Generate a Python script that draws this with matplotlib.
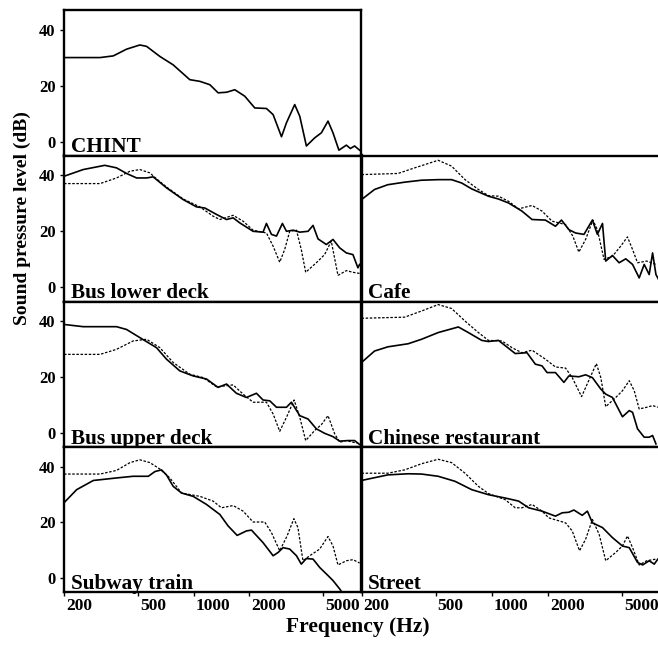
import matplotlib
matplotlib.use('Agg')
import matplotlib.pyplot as plt
import matplotlib.transforms as mtransforms
from matplotlib.ticker import FixedLocator, NullLocator, FixedFormatter, NullFormatter

plt.rcParams['font.family'] = ['Liberation Serif', 'DejaVu Serif']
plt.rcParams['font.weight'] = 'bold'

# ---------------- data (Hz, dB) ----------------
chint_f = [200, 313, 369, 435, 513, 558, 658, 776, 954, 1081, 1224, 1356, 1505, 1669, 1888,
           2138, 2472, 2686, 2980, 3170, 3512, 3740, 4060, 4500, 4890, 5310, 5650, 6080,
           6670, 7010, 7390, 7860]
chint_db = [30.0, 30.0, 30.6, 33.0, 34.5, 34.0, 30.4, 27.4, 22.1, 21.5, 20.3, 17.4, 17.6, 18.5,
            16.2, 12.0, 11.8, 9.6, 1.7, 6.7, 13.2, 9.0, -1.6, 1.3, 3.1, 7.3, 3.1, -3.1, -1.3,
            -2.5, -1.6, -3.1]

bus_low_solid_f = [200, 254, 332, 384, 435, 493, 558, 605, 714, 879, 1037, 1150, 1330, 1505, 1635,
                   1775, 2094, 2370, 2472, 2630, 2800, 3014, 3170, 3440, 3740, 4145, 4410, 4690,
                   5200, 5650, 6140, 6670, 7240, 7700, 7860]
bus_low_solid_db = [39.6, 42.0, 43.5, 42.6, 40.6, 39.0, 39.0, 39.4, 35.5, 31.3, 28.7, 28.3, 26.0,
                    24.2, 24.8, 23.0, 20.0, 19.7, 22.8, 18.9, 18.3, 22.8, 20.0, 20.4, 19.7, 20.0,
                    22.1, 17.3, 15.3, 17.1, 14.1, 12.3, 11.7, 7.0, 8.2]
bus_low_dash_f = [200, 313, 384, 454, 513, 581, 631, 714, 879, 1081, 1274, 1386, 1635, 1850, 2094,
                  2472, 2686, 2915, 3100, 3300, 3590, 3810, 4025, 4594, 5090, 5530, 6010, 6670,
                  7240, 7860]
bus_low_dash_db = [37.0, 37.0, 39.0, 41.4, 42.0, 40.8, 38.7, 35.8, 31.5, 28.7, 25.4, 24.2, 25.7,
                   23.6, 20.4, 19.4, 14.7, 9.0, 13.5, 20.0, 20.4, 13.5, 5.4, 8.8, 11.7, 16.5, 4.3,
                   6.0, 5.4, 5.0]

bus_up_solid_f = [200, 254, 384, 435, 513, 631, 714, 843, 995, 1174, 1356, 1505, 1702, 1928, 2183,
                  2370, 2576, 2800, 3170, 3370, 3740, 4145, 4594, 5090, 5650, 6140, 6810, 7390,
                  7860]
bus_up_solid_db = [38.8, 38.0, 38.0, 37.0, 34.1, 30.5, 26.4, 22.2, 20.4, 19.3, 16.3, 17.5, 14.2,
                   12.7, 14.2, 11.8, 11.5, 9.2, 9.2, 11.0, 6.2, 5.0, 1.5, -0.1, -1.3, -2.9, -2.7,
                   -2.7, -4.1]
bus_up_dash_f = [200, 313, 384, 472, 558, 658, 776, 954, 1126, 1330, 1635, 1850, 2094, 2472, 2686,
                 2915, 3170, 3485, 3740, 4025, 4500, 4890, 5310, 5770, 6140, 6670, 7240, 7700]
bus_up_dash_db = [28.1, 28.1, 29.9, 32.9, 33.5, 30.5, 25.2, 21.0, 19.8, 16.5, 17.2, 13.9, 11.0,
                  11.0, 6.8, 0.6, 5.6, 11.8, 5.6, -2.7, 0.9, 3.0, 6.2, -0.3, -3.3, -2.7, -3.3, -3.6]

subway_solid_f = [200, 234, 288, 384, 472, 570, 619, 671, 714, 776, 861, 995, 1174, 1386, 1535,
                  1718, 1928, 2052, 2370, 2686, 2860, 3040, 3300, 3590, 3810, 4060, 4410, 4790,
                  5310, 5650, 6140, 6400]
subway_solid_db = [27.0, 31.7, 35.0, 35.9, 36.5, 36.5, 38.2, 38.8, 37.0, 32.9, 30.5, 29.3, 26.4,
                   22.8, 18.7, 15.3, 16.9, 17.2, 12.7, 8.0, 9.2, 10.9, 10.4, 8.0, 5.0, 7.0, 6.8,
                   3.8, 0.9, -0.9, -3.9, -5.7]
subway_dash_f = [200, 313, 384, 454, 513, 581, 658, 745, 861, 1081, 1274, 1414, 1635, 1850, 2094,
                 2420, 2630, 2915, 3195, 3475, 3655, 3890, 4230, 4790, 5310, 5650, 6010, 6670,
                 7240, 7860]
subway_dash_db = [37.3, 37.3, 38.6, 41.4, 42.4, 41.4, 39.1, 35.9, 30.5, 29.3, 27.6, 25.2, 26.0,
                  24.0, 20.1, 20.1, 16.3, 9.8, 15.1, 21.3, 18.1, 6.2, 8.0, 10.4, 14.9, 11.5, 4.7,
                  6.2, 6.6, 5.4]

cafe_solid_f = [200, 235, 277, 341, 420, 516, 609, 690, 781, 960, 1087, 1230, 1452, 1646, 1940,
                2198, 2368, 2594, 2818, 3126, 3470, 3690, 3930, 4090, 4445, 4826, 5240, 5700,
                6185, 6580, 7000, 7300, 7610, 7870]
cafe_solid_db = [31.3, 34.9, 36.6, 37.5, 38.2, 38.4, 38.4, 37.2, 35.1, 32.5, 31.5, 30.1, 27.2,
                 24.2, 24.0, 21.8, 24.0, 20.6, 19.4, 18.9, 24.0, 18.9, 22.8, 9.4, 11.4, 8.8, 10.2,
                 8.2, 3.4, 8.2, 4.6, 12.3, 4.6, 2.8]
cafe_dash_f = [200, 314, 386, 516, 609, 719, 848, 960, 1087, 1230, 1394, 1646, 1862, 2108, 2490,
               2724, 2935, 3190, 3490, 3690, 4005, 4445, 4920, 5350, 5700, 6060, 6790, 7610]
cafe_dash_db = [40.2, 40.6, 42.6, 45.3, 43.2, 38.4, 34.9, 32.7, 32.5, 30.7, 28.0, 29.2, 27.2,
                23.6, 22.4, 18.3, 12.6, 17.1, 24.0, 20.6, 10.0, 11.1, 14.7, 18.0, 13.5, 8.8, 9.4,
                8.2]

chinese_solid_f = [200, 235, 277, 356, 420, 516, 662, 749, 884, 960, 1087, 1230, 1337, 1546, 1714,
                   1862, 1982, 2198, 2440, 2594, 2935, 3190, 3470, 3850, 4090, 4445, 5030, 5470,
                   5700, 6060, 6580, 7000, 7300, 7610]
chinese_solid_db = [25.2, 29.3, 30.8, 31.9, 33.5, 35.9, 37.9, 35.9, 33.1, 32.7, 33.1, 30.3, 28.4,
                    28.7, 24.6, 24.0, 21.6, 21.6, 18.1, 20.4, 20.1, 20.8, 19.8, 15.7, 13.9, 12.7,
                    5.8, 8.0, 7.4, 1.5, -1.5, -1.5, -0.9, -3.9]
chinese_dash_f = [200, 341, 420, 516, 609, 719, 848, 960, 1134, 1284, 1452, 1646, 1940, 2198,
                  2490, 2704, 3035, 3324, 3643, 3850, 4090, 4630, 5030, 5470, 5820, 6185, 6790,
                  7300, 7790]
chinese_dash_db = [41.0, 41.4, 43.6, 45.9, 44.5, 40.0, 35.9, 33.1, 32.9, 30.5, 28.7, 29.6, 26.4,
                   23.6, 23.2, 19.8, 13.0, 18.9, 24.8, 19.8, 9.4, 12.7, 15.1, 18.7, 15.1, 8.6, 9.2,
                   9.8, 9.2]

street_solid_f = [200, 277, 356, 420, 516, 635, 781, 960, 1181, 1394, 1578, 1862, 2198, 2388, 2594,
                  2760, 3060, 3260, 3470, 3930, 4445, 5030, 5470, 6060, 6450, 7000, 7450, 7790]
street_solid_db = [35.0, 37.0, 37.4, 37.3, 36.5, 34.7, 31.7, 29.9, 28.7, 27.6, 25.2, 24.0, 22.2,
                   23.4, 23.6, 24.4, 22.5, 24.0, 19.8, 18.1, 14.5, 11.5, 10.9, 5.6, 4.7, 6.2, 5.0,
                   6.8]
street_dash_f = [200, 277, 341, 420, 516, 609, 719, 848, 960, 1181, 1337, 1452, 1646, 1862, 2023,
                 2490, 2704, 2960, 3190, 3470, 3770, 4090, 4630, 5030, 5350, 5700, 6185, 6790, 7610]
street_dash_db = [37.6, 37.6, 38.8, 41.0, 42.6, 41.4, 37.6, 32.9, 30.3, 28.1, 25.2, 25.2, 26.4,
                  24.0, 21.6, 19.8, 16.9, 9.8, 13.9, 21.0, 15.7, 6.2, 9.2, 11.5, 15.1, 10.9, 4.7,
                  6.2, 6.8]

panel_titles = ['CHINT', 'Bus lower deck', 'Cafe', 'Bus upper deck', 'Chinese restaurant',
                'Subway train', 'Street']
x_ticks = [200, 500, 1000, 2000, 5000]
x_tick_labels = ['200', '500', '1000', '2000', '5000']
y_ticks = [0, 20, 40]
y_tick_labels = ['0', '20', '40']

# ---------------- layout ----------------
W, H = 658, 645
fig = plt.figure(figsize=(W / 100, H / 100), dpi=100)
fig.patch.set_facecolor('white')


def rect(l, t, r, b):
    return [l / W, 1 - b / H, (r - l) / W, (b - t) / H]


rows = [(10, 155.5), (155.5, 301.5), (301.5, 447), (447, 592)]
cols = [(64, 361), (361.5, 660)]

panels = [
    (0, 0, panel_titles[0], (chint_f, chint_db), None),
    (1, 0, panel_titles[1], (bus_low_solid_f, bus_low_solid_db), (bus_low_dash_f, bus_low_dash_db)),
    (1, 1, panel_titles[2], (cafe_solid_f, cafe_solid_db), (cafe_dash_f, cafe_dash_db)),
    (2, 0, panel_titles[3], (bus_up_solid_f, bus_up_solid_db), (bus_up_dash_f, bus_up_dash_db)),
    (2, 1, panel_titles[4], (chinese_solid_f, chinese_solid_db), (chinese_dash_f, chinese_dash_db)),
    (3, 0, panel_titles[5], (subway_solid_f, subway_solid_db), (subway_dash_f, subway_dash_db)),
    (3, 1, panel_titles[6], (street_solid_f, street_solid_db), (street_dash_f, street_dash_db)),
]

for r, c, title, solid, dash in panels:
    t, b = rows[r]
    l, rr = cols[c]
    ax = fig.add_axes(rect(l, t, rr, b))
    ax.set_xscale('log')
    ax.set_xlim(200, 8000)
    ax.set_ylim(-5, 47)
    if dash is not None:
        ax.plot(dash[0], dash[1], color='black', lw=0.9, linestyle=(0, (2.0, 1.3)))
    ax.plot(solid[0], solid[1], color='black', lw=1.2)

    for s in ax.spines.values():
        s.set_linewidth(1.7)
        s.set_color('black')
    if c == 1:
        ax.spines['right'].set_visible(False)

    ax.xaxis.set_major_locator(FixedLocator(x_ticks))
    ax.xaxis.set_minor_locator(NullLocator())
    ax.tick_params(axis='x', which='major', direction='out', length=3, width=1.0, pad=1)
    if r == 3:
        ax.xaxis.set_major_formatter(FixedFormatter(x_tick_labels))
        offset = mtransforms.ScaledTranslation(2 / 100, 0, fig.dpi_scale_trans)
        for lab in ax.get_xticklabels():
            lab.set_horizontalalignment('left')
            lab.set_fontsize(12.6)
            lab.set_fontweight('bold')
            lab.set_transform(lab.get_transform() + offset)
    else:
        ax.xaxis.set_major_formatter(NullFormatter())

    if c == 0:
        ax.yaxis.set_major_locator(FixedLocator(y_ticks))
        ax.yaxis.set_major_formatter(FixedFormatter(y_tick_labels))
        ax.tick_params(axis='y', direction='out', length=3, width=1.0, pad=3, labelsize=12)
        for lab in ax.get_yticklabels():
            lab.set_fontweight('bold')
    else:
        ax.set_yticks([])

    ax.text(0.022, 0.022, title, transform=ax.transAxes, ha='left', va='baseline',
            fontsize=15.3, fontweight='bold')

fig.text(22 / W, 1 - 218 / H, 'Sound pressure level (dB)', rotation=90, ha='center', va='center',
         fontsize=14, fontweight='bold')
fig.text(358 / W, 1 - 627 / H, 'Frequency (Hz)', ha='center', va='center',
         fontsize=15.5, fontweight='bold')

fig.savefig('out.png', dpi=100, facecolor='white')
